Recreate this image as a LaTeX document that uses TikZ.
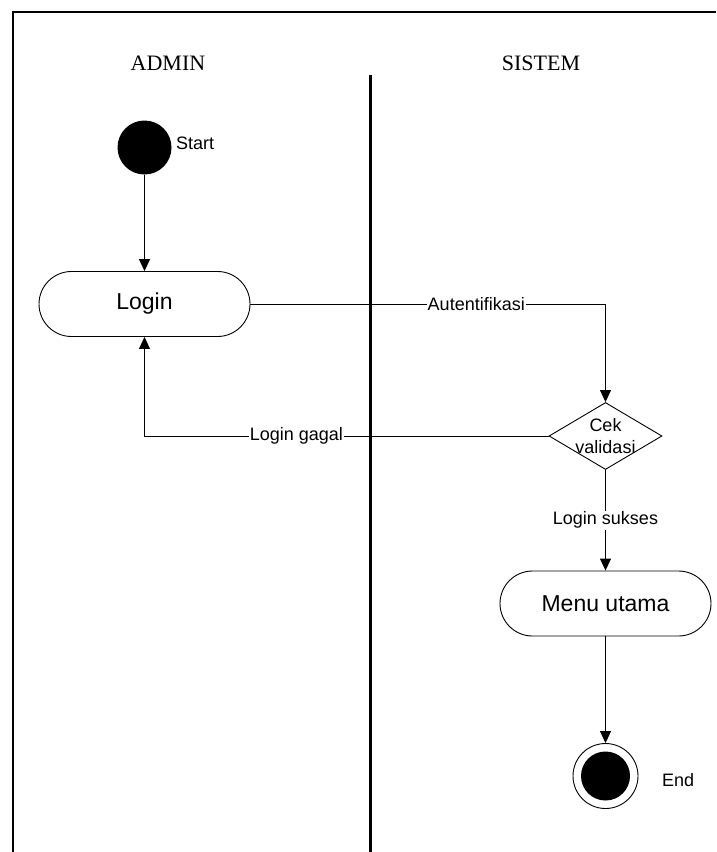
\documentclass[tikz,border=0pt]{standalone}
\usepackage{fontspec}
\setmainfont{Liberation Sans}
\newfontfamily\lanefont{Liberation Serif}
\usetikzlibrary{shapes.geometric,arrows.meta}

\begin{document}
\begin{tikzpicture}[x=1pt,y=-1pt,
  lane/.style={line width=2.9pt},
  flow/.style={line width=0.9pt,-{Triangle[length=12pt,width=11pt]}},
  lanetitle/.style={font=\lanefont\fontsize{22}{26}\selectfont},
  activity/.style={draw,line width=0.9pt,rounded corners=32.5pt,
    minimum width=211pt,minimum height=65pt,inner sep=0pt,
    font=\fontsize{23}{27}\selectfont},
  decision/.style={draw,diamond,line width=0.9pt,inner sep=0pt,
    minimum width=113pt,minimum height=67pt},
  initial/.style={circle,fill=black,minimum size=54pt,inner sep=0pt},
  final/.style={circle,draw,line width=0.9pt,minimum size=65pt,inner sep=0pt,
    path picture={\fill (path picture bounding box.center) circle (24.5pt);}},
  small/.style={font=\fontsize{18}{22}\selectfont},
  guard/.style={small,fill=white,inner sep=1pt}
]
\useasboundingbox (0,0) rectangle (716,852);

% swimlane frame and separator
\draw[lane] (13,852) -- (13,12) -- (716,12);
\draw[lane] (370.5,75) -- (370.5,852);
\node[lanetitle] (admin) at (168,63) {ADMIN};
\node[lanetitle] (sistem) at (541,63) {SISTEM};

% activity nodes
\node[initial] (start) at (144.5,147.5) {};
\node[small,anchor=west,inner sep=0pt] (startlbl) at (176,143) {Start};
\node[activity] (login) at (144.5,304) {Login};
\node[decision,label={[small,align=center,inner sep=0pt]center:Cek\\validasi}] (check) at (605.5,436) {};
\node[activity] (menu) at (605.5,603.5) {Menu utama};
\node[final] (end) at (605.5,776) {};
\node[small,anchor=west,inner sep=0pt] (endlbl) at (662,780) {End};

% transitions
\draw[flow] (start.south) -- (login.north);
\draw[flow] (login.east) -| node[guard,pos=0.318] {Autentifikasi} (check.north);
\draw[flow] (check.west) -| node[guard,pos=0.312] {Login gagal} (login.south);
\draw[flow] (check.south) -- node[guard,pos=0.5] {Login sukses} (menu.north);
\draw[flow] (menu.south) -- (end.north);
\end{tikzpicture}
\end{document}
